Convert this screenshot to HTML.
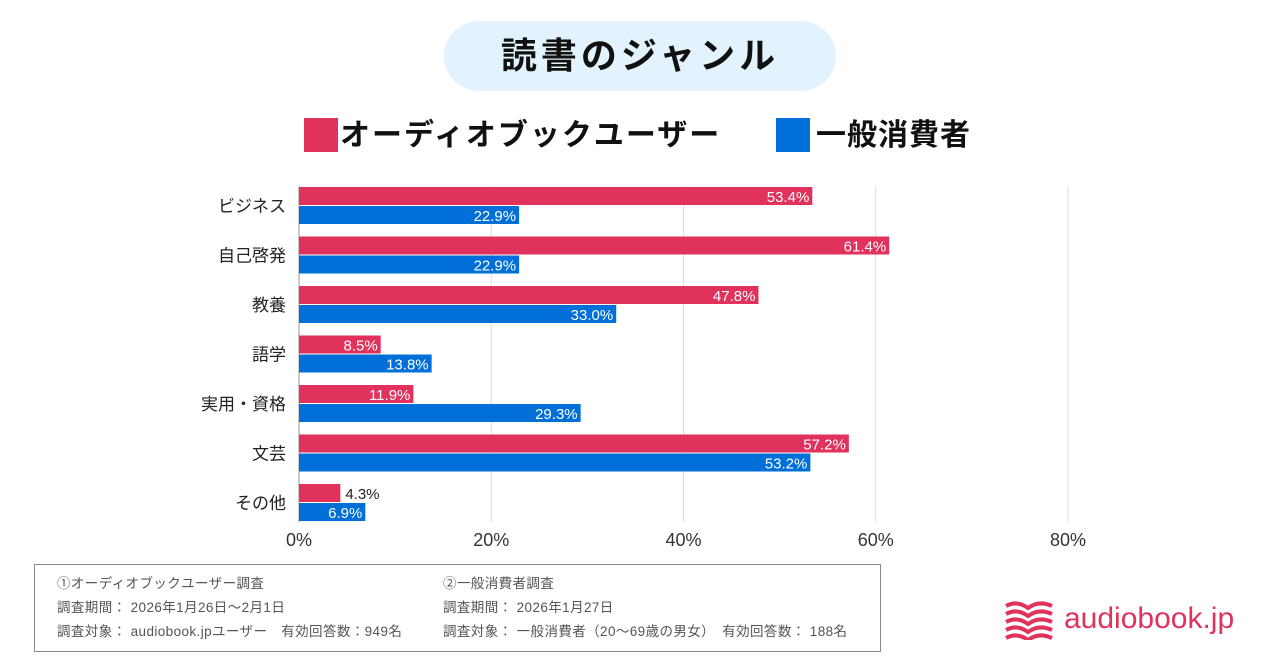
<!DOCTYPE html>
<html><head><meta charset="utf-8"><style>
body{margin:0;width:1280px;height:670px;background:#fff;font-family:"Liberation Sans","Noto Sans CJK JP",sans-serif;position:relative;overflow:hidden}
.t{position:absolute;white-space:nowrap}
</style></head><body>
<div class="t" style="left:444px;top:21px;width:392px;height:70px;border-radius:35px;background:#e3f3fd;text-align:center;line-height:70px;font-size:36px;font-weight:bold;color:#111;letter-spacing:4px">読書のジャンル</div>
<div class="t" style="left:304px;top:118px;font-size:30px;font-weight:bold;line-height:36px;color:#111;letter-spacing:2px"><span style="display:inline-block;width:34px;height:34px;background:#e0325c;vertical-align:top;margin-right:2px"></span>オーディオブックユーザー</div>
<div class="t" style="left:776px;top:118px;font-size:30px;font-weight:bold;line-height:36px;color:#111;letter-spacing:1px"><span style="display:inline-block;width:34px;height:34px;background:#0070d8;vertical-align:top;margin-right:6px"></span>一般消費者</div>
<svg id="c" width="1280" height="670" style="position:absolute;left:0;top:0"></svg>
<div class="t" style="left:34px;top:564px;width:845px;height:86px;border:1px solid #888;font-size:13.5px;color:#555;line-height:24px;letter-spacing:0.4px">
<div class="t" style="left:22px;top:7px">①オーディオブックユーザー調査<br>調査期間： 2026年1月26日～2月1日<br>調査対象： audiobook.jpユーザー　有効回答数：949名</div>
<div class="t" style="left:408px;top:7px">②一般消費者調査<br>調査期間： 2026年1月27日<br>調査対象： 一般消費者（20～69歳の男女）　有効回答数： 188名</div>
</div>
<div class="t" style="left:1004px;top:600px;height:40px">
<svg width="50" height="40" style="position:absolute;left:0;top:0"><g fill="none" stroke="#e0325c" stroke-width="4">
<path d="M2 6 Q13 0 24 8 Q35 0 48 6"/><path d="M2 14 Q13 8 24 16 Q35 8 48 14"/><path d="M2 22 Q13 16 24 24 Q35 16 48 22"/><path d="M2 30 Q13 24 24 32 Q35 24 48 30"/><path d="M2 38 Q13 32 24 40 Q35 32 48 38"/></g></svg>
<div class="t" style="left:60px;top:2px;font-size:30px;color:#e0325c;line-height:34px">audiobook.jp</div>
</div>
<script>
const categories=["ビジネス","自己啓発","教養","語学","実用・資格","文芸","その他"];
const audiobook=[53.4,61.4,47.8,8.5,11.9,57.2,4.3];
const general=[22.9,22.9,33.0,13.8,29.3,53.2,6.9];
const ticks=[0,20,40,60,80];
const svg=document.getElementById('c');const NS='http://www.w3.org/2000/svg';
const x=v=>299+v*9.6125;
const rowY=i=>187+i*49.5;
function mk(t,a,txt){const e=document.createElementNS(NS,t);for(const k in a)e.setAttribute(k,a[k]);if(txt!=null)e.textContent=txt;svg.appendChild(e);return e;}
ticks.forEach(t=>{
 const l=mk('line',{x1:x(t),x2:x(t),y1:186,y2:522,stroke:t?'#ddd':'#999','stroke-width':1});
 
 
 const tx=mk('text',{x:x(t),y:546,'text-anchor':'middle','font-size':18,fill:'#333'},t+'%');
 
 
});
function bar(v,y,col){
 const r=mk('rect',{x:x(0),y:y,width:x(v)-x(0),height:18,fill:col});
 
 
 const s=v.toFixed(1)+'%';const w=x(v)-x(0);
 const inside=w>45;
 const t=mk('text',{x:inside?x(v)-3:x(v)+5,y:y+15,'text-anchor':inside?'end':'start','font-size':15,fill:inside?'#fff':'#222'},s);
 
 
}
categories.forEach((c,i)=>{
 const y=rowY(i);
 const t=mk('text',{x:286,y:y+25,'text-anchor':'end','font-size':17,fill:'#222'},c);
 
 
 bar(audiobook[i],y,'#e0325c');
 bar(general[i],y+19,'#0070d8');
});
</script>
</body></html>
